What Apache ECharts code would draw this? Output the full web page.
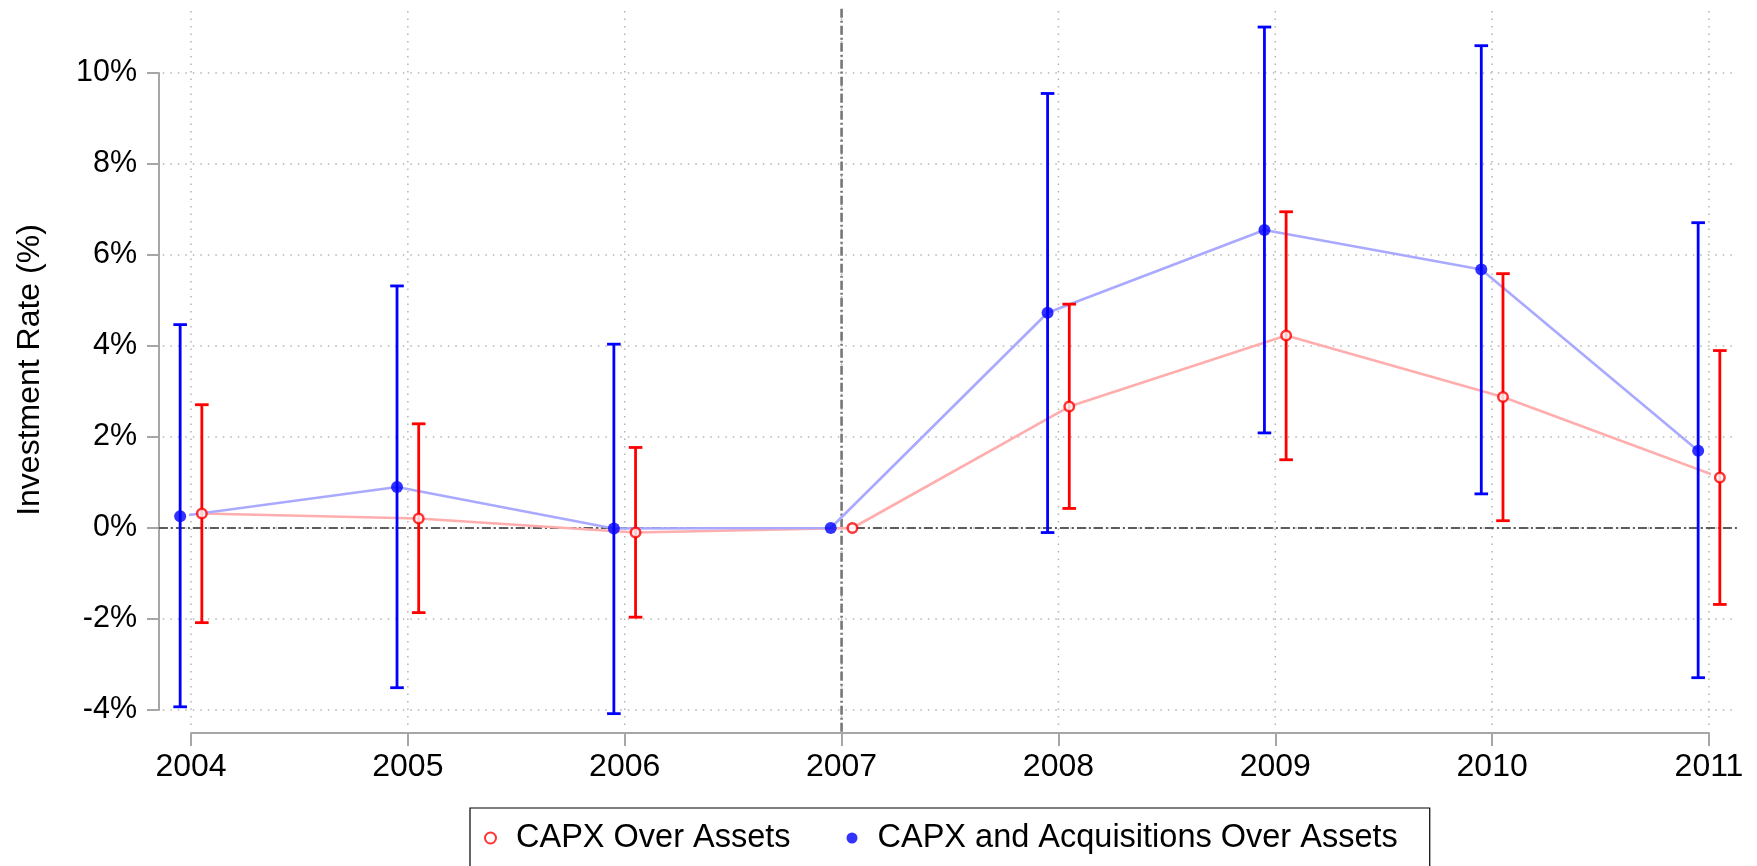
<!DOCTYPE html>
<html><head><meta charset="utf-8">
<script src="https://cdn.jsdelivr.net/npm/echarts@6/dist/echarts.min.js"></script>
<style>html,body{margin:0;padding:0;background:#fff}#c{width:1757px;height:866px}</style>
</head><body><div id="c"></div>
<script>
// ---- data (percent) ----
const years = [2004, 2005, 2006, 2007, 2008, 2009, 2010, 2011];
const yTicks = [-4, -2, 0, 2, 4, 6, 8, 10];
const capxRate = [0.32, 0.21, -0.10, 0.00, 2.67, 4.23, 2.88, 1.11];
const capxLow  = [-2.08, -1.86, -1.96, null, 0.43, 1.50, 0.16, -1.68];
const capxHigh = [2.71, 2.29, 1.77, null, 4.92, 6.95, 5.59, 3.90];
const acqRate  = [0.26, 0.90, -0.01, 0.00, 4.73, 6.55, 5.68, 1.70];
const acqLow   = [-3.93, -3.51, -4.08, null, -0.10, 2.09, 0.75, -3.29];
const acqHigh  = [4.47, 5.32, 4.04, null, 9.55, 11.01, 10.60, 6.71];
const eventYear = 2007;
const nameCapx = 'CAPX Over Assets';
const nameAcq = 'CAPX and Acquisitions Over Assets';

// ---- layout constants ----
const FONT = '"Liberation Sans", Arial, Helvetica, sans-serif';
const SHIFT = 0.05;
const X_PLOT = [2003.87, 2011.13];
const Y_PLOT = [-4.38, 11.36];

const chart = echarts.init(document.getElementById('c'), null, {renderer: 'canvas'});

const gridStyle = {stroke: '#b4b4b4', lineWidth: 1.5, lineDash: [1.5, 6]};
const refStyle = {stroke: '#5c5c5c', lineWidth: 2.2, lineDash: [9, 3, 2, 3]};

function vGrid(params, api) {
  const x = api.value(0);
  const p1 = api.coord([x, Y_PLOT[1]]), p2 = api.coord([x, Y_PLOT[0]]);
  return {type: 'line', shape: {x1: p1[0], y1: p1[1], x2: p2[0], y2: p2[1]}, style: gridStyle};
}
function hGrid(params, api) {
  const y = api.value(1);
  const p1 = api.coord([X_PLOT[0], y]), p2 = api.coord([X_PLOT[1], y]);
  return {type: 'line', shape: {x1: p1[0], y1: p1[1], x2: p2[0], y2: p2[1]}, style: gridStyle};
}
function vRef(params, api) {
  const x = api.value(0);
  const p1 = api.coord([x, 11.41]), p2 = api.coord([x, -4.505]);
  return {type: 'line', shape: {x1: p1[0], y1: p1[1], x2: p2[0], y2: p2[1]}, style: Object.assign({}, refStyle, {stroke: '#777777', lineWidth: 2.6})};
}
function hRef(params, api) {
  const y = api.value(1);
  const p1 = api.coord([2003.852, y]), p2 = api.coord([X_PLOT[1], y]);
  return {type: 'line', shape: {x1: p1[0], y1: p1[1], x2: p2[0], y2: p2[1]}, style: refStyle};
}
function makeErr(color) {
  return function (params, api) {
    const x = api.value(0), lo = api.value(1), hi = api.value(2);
    const a = api.coord([x, hi]), b = api.coord([x, lo]);
    const w = 6.8;
    const st = {stroke: color, lineWidth: 2.8};
    return {type: 'group', children: [
      {type: 'line', shape: {x1: a[0], y1: a[1], x2: b[0], y2: b[1]}, style: st},
      {type: 'line', shape: {x1: a[0] - w, y1: a[1], x2: a[0] + w, y2: a[1]}, style: st},
      {type: 'line', shape: {x1: b[0] - w, y1: b[1], x2: b[0] + w, y2: b[1]}, style: st}
    ]};
  };
}
function errData(lo, hi, shift) {
  const out = [];
  years.forEach((y, i) => { if (lo[i] != null) out.push([y + shift, lo[i], hi[i]]); });
  return out;
}

const option = {
  animation: false,
  backgroundColor: '#fff',
  textStyle: {fontFamily: FONT},
  grid: {left: 191, right: 48, top: 73, bottom: 156},
  xAxis: {
    type: 'value', min: 2004, max: 2011, interval: 1, offset: 23,
    axisLine: {show: true, onZero: false, lineStyle: {color: '#a6a6a6', width: 2}},
    axisTick: {show: true, length: 13, lineStyle: {color: '#a6a6a6', width: 2}},
    axisLabel: {fontSize: 32, color: '#000', fontFamily: FONT, margin: 18, formatter: v => String(v)},
    splitLine: {show: false}
  },
  yAxis: {
    type: 'value', min: -4, max: 10, interval: 2, offset: 32,
    axisLine: {show: true, onZero: false, lineStyle: {color: '#a6a6a6', width: 2}},
    axisTick: {show: true, length: 12, lineStyle: {color: '#a6a6a6', width: 2}},
    axisLabel: {fontSize: 30.5, color: '#000', fontFamily: FONT, margin: 22, formatter: v => v + '%'},
    splitLine: {show: false}
  },
  graphic: [{
    type: 'text', x: 30, y: 370, rotation: Math.PI / 2,
    style: {text: 'Investment Rate (%)', font: '32px ' + FONT, fill: '#000', align: 'center', verticalAlign: 'middle'}
  }],
  legend: {
    left: 470, top: 808, orient: 'horizontal',
    data: [nameCapx, nameAcq],
    itemWidth: 11, itemHeight: 11, itemGap: 56,
    padding: [12, 32, 40, 14],
    borderColor: '#000', borderWidth: 1.2,
    textStyle: {fontSize: 32.5, color: '#000', fontFamily: FONT, lineHeight: 36, padding: [0, 0, 0, 15]}
  },
  series: [
    {type: 'custom', name: 'vgrid', renderItem: vGrid, clip: false, silent: true, z: 1,
     data: years.map(y => [y, 0]), encode: {x: 0, y: 1}},
    {type: 'custom', name: 'hgrid', renderItem: hGrid, clip: false, silent: true, z: 1,
     data: yTicks.map(v => [2004, v]), encode: {x: 0, y: 1}},
    {type: 'custom', name: 'vref', renderItem: vRef, clip: false, silent: true, z: 2,
     data: [[eventYear, 0]], encode: {x: 0, y: 1}},
    {type: 'custom', name: 'href', renderItem: hRef, clip: false, silent: true, z: 2,
     data: [[2004, 0]], encode: {x: 0, y: 1}},
    {type: 'line', name: 'capxLine', z: 3, symbol: 'none', silent: true, clip: false,
     lineStyle: {color: '#ffadad', width: 2.6},
     data: years.map((y, i) => [y + SHIFT, capxRate[i]])},
    {type: 'line', name: 'acqLine', z: 3, symbol: 'none', silent: true, clip: false,
     lineStyle: {color: '#a9a9ff', width: 2.6},
     data: years.map((y, i) => [y - SHIFT, acqRate[i]])},
    {type: 'custom', name: 'capxErr', renderItem: makeErr('#ff0000'), clip: false, z: 4,
     data: errData(capxLow, capxHigh, SHIFT), encode: {x: 0, y: [1, 2]}},
    {type: 'custom', name: 'acqErr', renderItem: makeErr('#0000ff'), clip: false, z: 4,
     data: errData(acqLow, acqHigh, -SHIFT), encode: {x: 0, y: [1, 2]}},
    {type: 'scatter', name: nameCapx, z: 5, symbol: 'circle', symbolSize: 9.5, clip: false,
     itemStyle: {color: '#ffffff', borderColor: '#ff0000', borderWidth: 2.5},
     data: years.map((y, i) => [y + SHIFT, capxRate[i]])},
    {type: 'scatter', name: nameAcq, z: 5, symbol: 'circle', symbolSize: 12, clip: false,
     itemStyle: {color: '#0000ff'},
     data: years.map((y, i) => [y - SHIFT, acqRate[i]])}
  ]
};
chart.setOption(option);
</script></body></html>
